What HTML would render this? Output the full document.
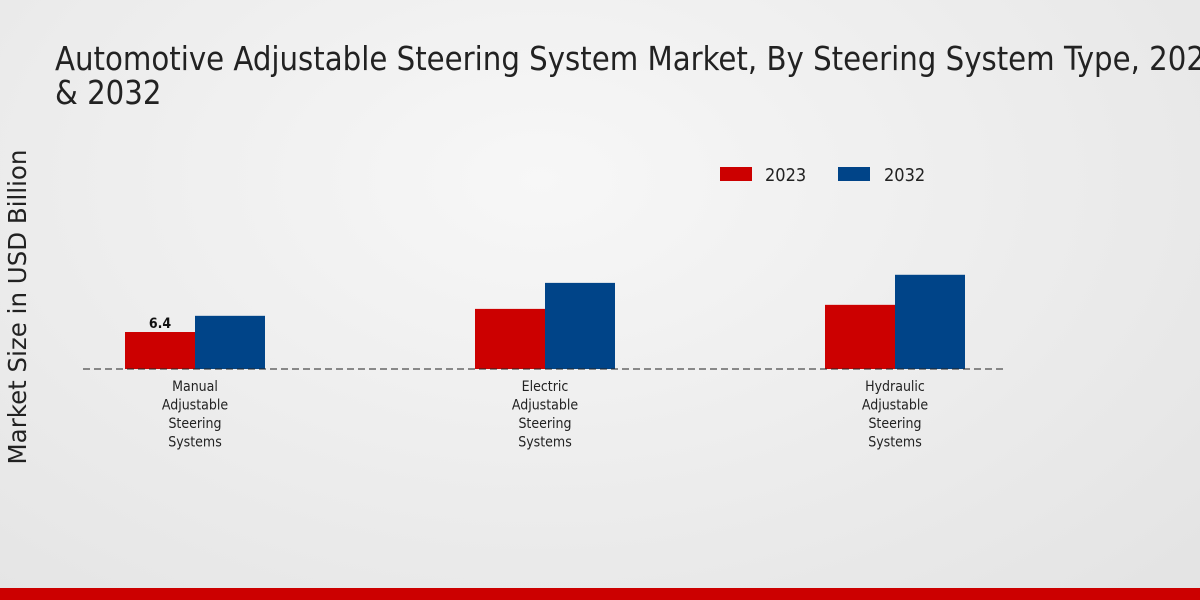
<!DOCTYPE html>
<html><head><meta charset="utf-8"><style>
body{margin:0;width:1200px;height:600px;overflow:hidden;font-family:"DejaVu Sans","Liberation Sans",sans-serif;}
#wrap{position:relative;width:1200px;height:600px;background:radial-gradient(ellipse at 45% 30%,#f7f7f7 0%,#ebebeb 60%,#e3e3e3 100%);}
</style></head><body>
<div id="wrap">
<svg id="chart" width="1200" height="600" style="position:absolute;left:0;top:0">
<text x="55" y="70" font-size="32.5" fill="#222" style="font-family:'DejaVu Sans Condensed','DejaVu Sans',sans-serif">Automotive Adjustable Steering System Market, By Steering System Type, 2023</text>
<text x="55" y="104" font-size="32.5" fill="#222" style="font-family:'DejaVu Sans Condensed','DejaVu Sans',sans-serif">&amp; 2032</text>
<text transform="translate(26,307) rotate(-90)" text-anchor="middle" font-size="24.5" fill="#222">Market Size in USD Billion</text>
<g style="font-family:'DejaVu Sans Condensed','DejaVu Sans',sans-serif">
<rect x="720" y="167" width="32" height="14" fill="#cc0000"/>
<text x="765" y="181" font-size="18" fill="#222">2023</text>
<rect x="838" y="167" width="32" height="14" fill="#004488"/>
<text x="884" y="181" font-size="18" fill="#222">2032</text>
</g>
<g id="bars"></g>
<line x1="83" y1="369" x2="1007" y2="369" stroke="#222" stroke-dasharray="7,4" stroke-width="1"/>
<g id="labels"></g>
<rect x="0" y="588" width="1200" height="12" fill="#cc0000"/>
</svg>
</div>
<script>
const categories=[["Manual","Adjustable","Steering","Systems"],["Electric","Adjustable","Steering","Systems"],["Hydraulic","Adjustable","Steering","Systems"]];
const values2023=[6.4,10.4,11.1];
const values2032=[9.2,14.9,16.3];
const shownLabels=["6.4",null,null];
const ns="http://www.w3.org/2000/svg";
const baseY=369,pxPerUnit=5.78;
function yScale(v){return baseY-v*pxPerUnit;}
function xCenter(i){return 195+i*350;}
const bars=document.getElementById('bars'),labels=document.getElementById('labels');
categories.forEach((c,i)=>{
  [[values2023,"#cc0000",-70,"2023"],[values2032,"#004488",0,"2032"]].forEach(([arr,col,off,s])=>{
    const r=document.createElementNS(ns,'rect');
    r.setAttribute('x',xCenter(i)+off);r.setAttribute('width',70);
    r.setAttribute('y',yScale(arr[i]));r.setAttribute('height',baseY-yScale(arr[i]));
    r.setAttribute('fill',col);
    
    
    bars.appendChild(r);
  });
  if(shownLabels[i]){
    const t=document.createElementNS(ns,'text');
    t.setAttribute('x',xCenter(i)-35);t.setAttribute('y',yScale(values2023[i])-4);
    t.setAttribute('text-anchor','middle');t.setAttribute('font-size','14');t.setAttribute('font-weight','bold');t.setAttribute('fill','#111');
    t.setAttribute('style',"font-family:'DejaVu Sans Condensed','DejaVu Sans',sans-serif");
    t.textContent=shownLabels[i];
    
    
    labels.appendChild(t);
  }
  c.forEach((line,j)=>{
    const t=document.createElementNS(ns,'text');
    t.setAttribute('x',xCenter(i));t.setAttribute('y',391+j*18.5);
    t.setAttribute('text-anchor','middle');t.setAttribute('font-size','14');t.setAttribute('fill','#222');
    t.setAttribute('style',"font-family:'DejaVu Sans Condensed','DejaVu Sans',sans-serif");
    t.textContent=line;
    
    
    labels.appendChild(t);
  });
});
</script>
</body></html>
